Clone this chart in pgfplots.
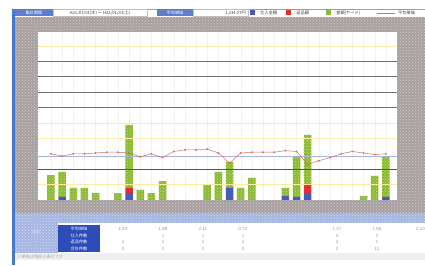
\documentclass[border=0pt]{standalone}
\usepackage{pgfplots}
\pgfplotsset{compat=1.18}
\usepackage{fontspec}
\setmainfont{Liberation Sans}
\newfontfamily\jp{Noto Sans CJK JP}
\usetikzlibrary{patterns}
\definecolor{frame}{RGB}{168,160,160}
\definecolor{framedot}{RGB}{212,205,200}
\definecolor{barg}{RGB}{135,185,55}
\definecolor{bargdot}{RGB}{205,228,100}
\definecolor{barb}{RGB}{70,90,185}
\definecolor{barr}{RGB}{230,45,45}
\definecolor{lineR}{RGB}{215,110,95}
\definecolor{hdrblue}{RGB}{95,125,205}
\definecolor{tblue}{RGB}{45,75,185}
\definecolor{lband}{RGB}{165,180,225}
\definecolor{lbanddot}{RGB}{215,222,245}
\definecolor{edge}{RGB}{70,120,210}
\definecolor{gridd}{RGB}{110,110,120}
\pgfplotstableread{
day blue red green
1  0    0    1.62
2  0.2  0    1.62
3  0    0    0.78
4  0    0    0.78
5  0    0    0.45
7  0    0    0.45
8  0.45 0.33 4.09
9  0    0    0.65
10 0    0    0.45
11 0    0    1.23
15 0    0    0.97
16 0    0    1.82
17 0.78 0    1.69
18 0    0    0.78
19 0    0    1.43
22 0.25 0    0.53
23 0.2  0    2.59
24 0.45 0.52 3.25
29 0    0    0.26
30 0    0    1.56
31 0.2  0    2.59
}\bars
\pgfplotstableread{
day avg
1  3.0
2  2.85
3  3.0
4  3.0
5  3.05
6  3.1
7  3.1
8  3.05
9  2.8
10 3.0
11 2.75
12 3.15
13 3.25
14 3.25
15 3.3
16 3.05
17 2.4
18 3.05
19 3.1
20 3.1
21 3.1
22 3.2
23 3.15
24 2.3
25 2.55
26 2.75
27 3.0
28 3.15
29 3.05
30 2.95
31 3.0
}\avgline
\begin{document}
\begin{tikzpicture}[x=1pt,y=1pt]
\useasboundingbox (0,0) rectangle (425,265);
\fill[white] (0,0) rectangle (425,265);
% outer gray frame
\fill[frame] (15,52) rectangle (425,248);
\fill[pattern=crosshatch dots, pattern color=framedot] (15,52) rectangle (425,248);
% light band under frame
\fill[lband] (15,42) rectangle (425,52);
\fill[pattern=crosshatch dots, pattern color=lbanddot] (15,42) rectangle (425,52);
% table area
\fill[white] (58,12) rectangle (425,42);
\fill[lband] (15,12) rectangle (58,42);
\fill[pattern=crosshatch dots, pattern color=lbanddot] (15,12) rectangle (58,42);
\fill[tblue] (58,13) rectangle (100,40);
% bottom strip
\fill[gray!12] (15,5) rectangle (425,12);
% left window edge
\fill[edge] (12,0) rectangle (15,256);
% header
\fill[white] (15,248) rectangle (425,256);
\draw[edge!70, line width=0.4pt] (15,256) -- (425,256);
\fill[hdrblue] (15,248.5) rectangle (53,255.5);
\draw[gray!50, line width=0.3pt, fill=white] (53,248.5) rectangle (147,255.5);
\fill[hdrblue] (157,248.5) rectangle (193,255.5);
\draw[gray!50, line width=0.3pt, fill=white] (193,248.5) rectangle (248,255.5);
\begin{scope}[font=\jp\fontsize{4.2}{5}\selectfont, inner sep=0pt]
\node[white] at (34,252) {集計期間};
\node[black!75] at (100,252) {H21/01/01(木) ～ H21/01/31(土)};
\node[white] at (175,252) {平均単価};
\node[black!75, anchor=east] at (246,252) {1,234.57円};
\fill[barb] (250,250) rectangle (254.5,254.5);
\node[black!75, anchor=west] at (256,252) {：仕入金額};
\fill[barr] (286,250) rectangle (290.5,254.5);
\node[black!75, anchor=west] at (292,252) {：返品額};
\fill[barg] (326,250) rectangle (330.5,254.5);
\node[black!75, anchor=west] at (332,252) {：差額(ヤード)};
\draw[lineR, line width=0.5pt] (377,252) -- (395,252);
\node[black!75, anchor=west] at (398,252) {平均単価};
% table labels
\node[white] at (79,36) {平均単価};
\node[white] at (79,29.5) {仕入件数};
\node[white] at (79,23) {返品件数};
\node[white] at (79,16.5) {合計件数};
\node[white!90!blue] at (36,33) {日別};
\node[gray!70, anchor=west] at (17,8.5) {※単価は税抜き表示です};
\end{scope}
\begin{scope}[font=\fontsize{4.4}{5}\selectfont, text=gray!80, inner sep=0pt]
\node at (123,36) {1.83}; \node at (163,36) {1.88}; \node at (203,36) {2.11};
\node at (243,36) {0.72}; \node at (337,36) {1.47}; \node at (377,36) {1.88};
\node[anchor=west] at (416,36) {2.10};
\node at (163,29.5) {1}; \node at (203,29.5) {1}; \node at (243,29.5) {1};
\node at (337,29.5) {3}; \node at (377,29.5) {2};
\node at (123,23) {1}; \node at (163,23) {1}; \node at (203,23) {1};
\node at (243,23) {1}; \node at (337,23) {3}; \node at (377,23) {1};
\node at (123,16.5) {3}; \node at (163,16.5) {1}; \node at (203,16.5) {1};
\node at (243,16.5) {3}; \node at (337,16.5) {2}; \node at (377,16.5) {11};
\end{scope}
% main plot
\begin{axis}[at={(38pt,65pt)}, anchor=south west, scale only axis,
  width=359pt, height=168pt,
  xmin=-0.16, xmax=32, ymin=0, ymax=10.9,
  axis background/.style={fill=white},
  axis line style={draw=none},
  xtick={1,...,31}, xticklabels={}, major tick length=0pt,
  ytick=\empty,
  xmajorgrids, grid style={gray!10, line width=0.3pt},
  ybar stacked, bar width=7.5pt, clip=false]
\draw[yellow!60!orange!35, line width=0.5pt] (axis cs:-0.16,1) -- (axis cs:32,1);
\draw[yellow!60!orange!30, line width=0.5pt] (axis cs:-0.16,4) -- (axis cs:32,4);
\draw[yellow!60!orange!35, line width=0.5pt] (axis cs:-0.16,5) -- (axis cs:32,5);
\draw[yellow!60!orange!35, line width=0.5pt] (axis cs:-0.16,10) -- (axis cs:32,10);
\draw[gridd, line width=0.5pt] (axis cs:-0.16,6) -- (axis cs:32,6);
\draw[gridd, line width=0.5pt] (axis cs:-0.16,7) -- (axis cs:32,7);
\draw[gridd, line width=0.5pt] (axis cs:-0.16,8) -- (axis cs:32,8);
\draw[gridd, line width=0.5pt] (axis cs:-0.16,9) -- (axis cs:32,9);
\draw[blue!45!gray, line width=0.6pt] (axis cs:-0.16,2) -- (axis cs:32,2);
\draw[cyan!40!blue!35, line width=0.7pt] (axis cs:-0.16,2.86) -- (axis cs:32,2.86);
\addplot[fill=barb, draw=none] table[x=day, y=blue] {\bars};
\addplot[fill=barr, draw=none] table[x=day, y=red] {\bars};
\addplot[fill=barg, draw=none, postaction={pattern=crosshatch dots, pattern color=bargdot}] table[x=day, y=green] {\bars};
\end{axis}
\begin{axis}[at={(38pt,65pt)}, anchor=south west, scale only axis,
  width=359pt, height=168pt,
  xmin=-0.16, xmax=32, ymin=0, ymax=10.9, hide axis]
\addplot[lineR, line width=0.5pt, mark=*, mark size=0.6pt,
  mark options={fill=blue!50!gray, draw=none}] table[x=day, y=avg] {\avgline};
\end{axis}
\end{tikzpicture}
\end{document}
